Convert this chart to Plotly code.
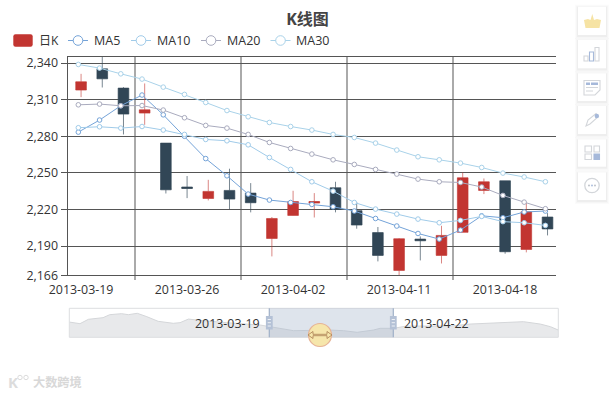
import plotly.graph_objects as go

# ---------- data ----------
dates = ["2013-03-19","2013-03-20","2013-03-21","2013-03-22","2013-03-25","2013-03-26","2013-03-27","2013-03-28",
         "2013-03-29","2013-04-01","2013-04-02","2013-04-03","2013-04-08","2013-04-09","2013-04-10","2013-04-11",
         "2013-04-12","2013-04-15","2013-04-16","2013-04-17","2013-04-18","2013-04-19","2013-04-22"]
opens  = [2317.9,2335.3,2319.5,2299.0,2274.4,2238.4,2229.0,2235.6,2233.4,2196.2,2215.1,2225.2,2237.8,2219.0,2201.0,2170.0,2195.7,2182.3,2201.2,2235.6,2243.5,2187.2,2213.8]
closes = [2324.7,2327.1,2298.2,2301.7,2236.1,2237.2,2234.8,2228.5,2225.5,2212.6,2226.5,2226.5,2220.0,2207.2,2182.3,2196.0,2194.3,2198.7,2246.0,2242.7,2185.3,2218.1,2204.0]
lows   = [2312.1,2320.0,2281.5,2289.4,2233.1,2229.3,2227.4,2220.3,2217.6,2181.5,2215.0,2213.4,2217.6,2204.2,2177.4,2166.0,2178.2,2175.7,2201.2,2232.6,2183.7,2184.8,2198.7]
highs  = [2331.2,2346.0,2320.3,2323.3,2274.4,2247.4,2244.3,2253.4,2241.6,2213.8,2235.3,2233.4,2242.7,2226.1,2205.6,2196.5,2197.9,2206.6,2250.3,2245.4,2243.5,2225.7,2217.0]
ma5  = [2283.4,2293.3,2305.0,2313.8,2297.6,2280.0,2261.7,2247.6,2232.6,2227.7,2225.7,2224.1,2222.2,2218.7,2212.6,2206.4,2200.3,2195.7,2203.1,2214.8,2213.2,2217.9,2218.7]
ma10 = [2287.0,2287.8,2286.7,2288.0,2285.1,2281.5,2277.4,2276.3,2273.0,2262.6,2252.8,2242.7,2235.0,2225.7,2220.3,2216.2,2212.1,2209.1,2211.0,2214.3,2210.0,2209.1,2206.9]
ma20 = [2305.8,2306.4,2305.0,2305.2,2301.5,2295.2,2288.9,2286.7,2281.5,2274.9,2270.0,2265.4,2260.7,2256.9,2252.8,2249.0,2244.9,2242.7,2242.1,2238.4,2231.5,2226.0,2220.6]
ma30 = [2338.9,2335.9,2331.2,2326.9,2320.3,2314.3,2307.7,2301.1,2296.0,2291.3,2288.0,2285.1,2281.5,2279.0,2274.4,2268.7,2263.2,2260.7,2258.0,2254.4,2249.8,2246.6,2242.7]
overview_idx = [0,1.9,3.4,6,7.2,9.3,10.5,12.1,13.8,15.8,18.5,19.7,21.2,22.7,28,34,35.7,39.9,46.4,48.8,51.2,54.1,55.3,57.7,60,63.6,67.8,71.3,73.7,78.5,80.8,83.8,85.6,87]
overview_val = [2222,2209,2244,2257,2281,2289,2281,2292,2265,2228,2212,2217,2246,2238,2217,2198,2185,2153,2158,2153,2140,2158,2172,2172,2190,2190,2190,2206,2212,2222,2225,2206,2185,2158]
ytick_vals = [2166,2190,2220,2250,2280,2310,2340]
xtick_idx = [0,5,10,15,20]
xgrid_idx = [2.54,7.54,12.54,17.54]
zoom_start_label = "2013-03-19"
zoom_end_label = "2013-04-22"
legend_names = ["MA5","MA10","MA20","MA30"]
ma_colors = ["#74a3d8","#a0cbe9","#a9abbe","#a9d2e9"]

W, H = 614, 395
FONT = "Open Sans, Noto Sans CJK SC"
RED, DARK = "#c23531", "#314656"
px = lambda x: x / W
py = lambda y: 1 - y / H
idx = list(range(len(dates)))

fig = go.Figure()
fig.add_trace(go.Candlestick(
    x=idx, open=opens, high=highs, low=lows, close=closes, name="日K", whiskerwidth=0,
    increasing=dict(fillcolor=RED, line=dict(color="rgba(194,53,49,0.6)", width=1)),
    decreasing=dict(fillcolor=DARK, line=dict(color="rgba(49,70,86,0.65)", width=1)),
    showlegend=False))
for name, vals, col in zip(legend_names, [ma5, ma10, ma20, ma30], ma_colors):
    fig.add_trace(go.Scatter(
        x=idx, y=vals, xaxis="x2", yaxis="y", name=name, mode="lines+markers", showlegend=False,
        line=dict(color=col, width=1),
        marker=dict(size=4.6, color="white", line=dict(color=col, width=1))))
fig.add_trace(go.Scatter(
    x=overview_idx, y=overview_val, xaxis="x3", yaxis="y3", mode="lines", showlegend=False,
    fill="tozeroy", fillcolor="#e8e9eb", line=dict(color="#d4d6d9", width=1)))

shapes, annos = [], []
def rect(x0, y0, x1, y1, fill, line=None, lw=1, layer="above"):
    shapes.append(dict(type="rect", xref="paper", yref="paper", x0=px(x0), x1=px(x1), y0=py(y0), y1=py(y1),
                       fillcolor=fill, line=dict(color=line or "rgba(0,0,0,0)", width=lw if line else 0), layer=layer))
def circle(cx, cy, r, fill, line=None, lw=1):
    shapes.append(dict(type="circle", xref="paper", yref="paper", x0=px(cx-r), x1=px(cx+r), y0=py(cy+r), y1=py(cy-r),
                       fillcolor=fill, line=dict(color=line or "rgba(0,0,0,0)", width=lw if line else 0)))
def seg(x0, y0, x1, y1, col, lw=1):
    shapes.append(dict(type="line", xref="paper", yref="paper", x0=px(x0), x1=px(x1), y0=py(y0), y1=py(y1),
                       line=dict(color=col, width=lw)))
def poly(points, fill, line=None, lw=1):
    d = "M" + " L".join(f"{px(a):.5f},{py(b):.5f}" for a, b in points) + " Z"
    shapes.append(dict(type="path", xref="paper", yref="paper", path=d, fillcolor=fill,
                       line=dict(color=line or "rgba(0,0,0,0)", width=lw if line else 0)))
def text(x, y, s, size=12, col="#333", anchor="left", bold=False):
    annos.append(dict(xref="paper", yref="paper", x=px(x), y=py(y), text=f"<b>{s}</b>" if bold else s, showarrow=False,
                      xanchor=anchor, yanchor="middle", font=dict(family=FONT, size=size, color=col), borderpad=0))

# legend
shapes.append(dict(type="path", xref="paper", yref="paper", fillcolor=RED, line=dict(width=0),
    path=f"M{px(15.5)},{py(34.3)} L{px(30.5)},{py(34.3)} Q{px(32.7)},{py(34.3)} {px(32.7)},{py(36.5)} L{px(32.7)},{py(44.5)} Q{px(32.7)},{py(46.7)} {px(30.5)},{py(46.7)} L{px(15.5)},{py(46.7)} Q{px(13.3)},{py(46.7)} {px(13.3)},{py(44.5)} L{px(13.3)},{py(36.5)} Q{px(13.3)},{py(34.3)} {px(15.5)},{py(34.3)} Z"))
text(37.5, 40.5, "日K", 12)
for name, col, x0, tx in zip(legend_names, ma_colors, [68, 131, 201, 270.5], [92.5, 156, 225.5, 295]):
    seg(x0, 40.5, x0 + 20, 40.5, col, 1)
    circle(x0 + 10, 40.5, 4.8, "white", col, 1)
    text(tx, 40.5, name, 12.5)

# data zoom frame
rect(69.3, 308.3, 558.3, 337.3, "rgba(0,0,0,0)", "#dcdee0", 1)
rect(269.3, 308.3, 393.3, 337.3, "rgba(167,183,204,0.38)")
seg(269.3, 308.3, 269.3, 337.3, "#a0b0c8", 1.2)
seg(393.3, 308.3, 393.3, 337.3, "#a0b0c8", 1.2)
for hx in (269.3, 393.3):
    rect(hx - 3.4, 316, hx + 3.4, 329.5, "#b4c1d6")
    for hy in (319.5, 322.7, 326):
        seg(hx - 1.6, hy, hx + 1.6, hy, "#eef1f6", 1)
text(261, 323, zoom_start_label, 12.4, "#333", "right")
text(402.7, 323, zoom_end_label, 12.4, "#333", "left")
# drag ball
circle(320, 335, 11.5, "#f6e6ab", "#e6b396", 1.2)
poly([(308,335),(313,331.5),(313,334.3),(327,334.3),(327,331.5),(332,335),(327,338.5),(327,335.7),(313,335.7),(313,338.5)], "#f6e6ab", "#a87c50", 0.8)

# toolbox cards
cards = [(6.7,35),(40,68.3),(73.3,101),(106,134),(139.3,166.7),(172.3,200)]
for y0, y1 in cards:
    for g, a in ((3, .018), (2, .028), (1, .04)):
        rect(578 - g, y0 - g + 1, 606 + g, y1 + g + 1, f"rgba(60,60,60,{a})")
    rect(578, y0, 606, y1, "white")
GR, BL = "#d3d6da", "#a6b9da"
# crown
poly([(584,20),(588,19),(590.5,20),(592.3,14),(594,20),(597,19),(601,20),(599.5,28),(585.5,28)], "#f6e3a4")
# bars
for bx0, by, c in ((584,56,GR),(589.5,52,BL),(595,47.5,GR)):
    rect(bx0, by, bx0 + 4, 61, "white", c, 1.1)
# note
poly([(584,80.5),(600,80.5),(600,90),(595,95),(584,95)], "white", GR, 1.1)
rect(586, 82.5, 590, 85, BL); rect(591, 82.5, 598, 85, BL)
seg(586, 87.5, 598, 87.5, GR, 1); seg(586, 91, 593, 91, GR, 1)
# pencil
poly([(586,126),(588,120),(596,113.5),(598.5,116.5),(590,124)], "white", GR, 1.1)
circle(596.8, 116, 2.2, BL)
# grid
rect(585, 146, 591.5, 152, "white", GR, 1.1); rect(594, 146, 599.5, 152, "white", GR, 1.1)
rect(585, 154, 591.5, 159.5, "white", GR, 1.1); rect(594, 154, 599.5, 159.5, BL, BL, 1.1)
# chat
circle(592, 185.5, 7.2, "white", GR, 1.3)
for cx, c in ((589, "#b8bcc4"), (592, BL), (595, "#b8bcc4")):
    circle(cx, 185.5, 0.9, c)

# watermark
text(6.5, 382, "<b>K</b>", 15, "#dcdcdc")
circle(20, 377.5, 2.2, "rgba(0,0,0,0)", "#dcdcdc", 1)
circle(26, 377.5, 2.2, "rgba(0,0,0,0)", "#dcdcdc", 1)
text(32, 382, "<b>大数跨境</b>", 12.2, "#d8d8d8")

fig.update_layout(
    template="none",
    width=W, height=H, margin=dict(l=0, r=0, t=0, b=0, pad=0), autosize=False,
    paper_bgcolor="white", plot_bgcolor="white", showlegend=False, boxgap=0.28,
    font=dict(family=FONT, size=12.4, color="#333"),
    title=dict(text="<b>K线图</b>", x=307.5 / W, xanchor="center", y=py(19), yanchor="middle",
               font=dict(family=FONT, size=16, color="#444")),
    xaxis=dict(domain=[px(67.5), px(556)], range=[-0.64, 22.4], tickmode="array", tickvals=xtick_idx,
               ticktext=[dates[i] for i in xtick_idx], ticks="outside", ticklen=3, tickcolor="rgba(0,0,0,0)",
               showgrid=False, zeroline=False, showline=True, linecolor="#555", linewidth=1, mirror=True,
               automargin=False, rangeslider=dict(visible=False),
               minor=dict(tickmode="array", tickvals=xgrid_idx, showgrid=True, gridcolor="#aaaaaa", gridwidth=2,
                          ticks="outside", ticklen=4, tickcolor="#aaaaaa", tickwidth=2)),
    xaxis2=dict(domain=[px(67.5), px(556)], range=[-0.51, 22.5], overlaying="x", visible=False, anchor="y", automargin=False),
    yaxis=dict(domain=[py(275.3), py(57)], range=[2166, 2345], tickmode="array", tickvals=ytick_vals,
               tickformat=",d", ticks="outside", ticklen=6, tickcolor="#555", showgrid=True, gridcolor="#555",
               gridwidth=1, zeroline=False, showline=True, linecolor="#555", linewidth=1, automargin=False),
    xaxis3=dict(domain=[px(69.3), px(558.3)], range=[0, 87], visible=False, anchor="y3", automargin=False),
    yaxis3=dict(domain=[py(337.3), py(308.3)], range=[2100, 2332], visible=False, anchor="x3", automargin=False),
    shapes=shapes, annotations=annos,
)
fig.write_html("out.html", config=dict(displayModeBar=False),
               post_script="document.body.style.margin='0';document.body.style.overflow='hidden';")
